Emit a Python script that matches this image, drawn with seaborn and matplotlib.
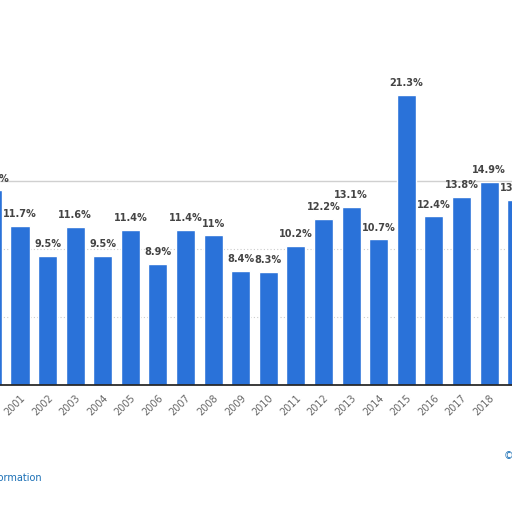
import matplotlib
matplotlib.use("Agg")
import matplotlib.pyplot as plt
import seaborn as sns
import pandas as pd

years = [str(y) for y in range(2000, 2020)]
values = [14.3, 11.7, 9.5, 11.6, 9.5, 11.4, 8.9, 11.4, 11.0, 8.4, 8.3, 10.2, 12.2, 13.1, 10.7, 21.3, 12.4, 13.8, 14.9, 13.6]
labels = ["14.3%", "11.7%", "9.5%", "11.6%", "9.5%", "11.4%", "8.9%", "11.4%", "11%", "8.4%", "8.3%",
          "10.2%", "12.2%", "13.1%", "10.7%", "21.3%", "12.4%", "13.8%", "14.9%", "13.6%"]

df = pd.DataFrame({"year": years, "value": values})
sns.set_theme(style="white")
fig = plt.figure(figsize=(5.12, 5.12), dpi=100)
ax = fig.add_axes([0, 1 - 385/512, 1, 385/512])
sns.barplot(data=df, x="year", y="value", color="#2a72d9", width=0.69, ax=ax, saturation=1)
ax.set_xlim(0.275, 18.83)
ax.set_ylim(0, 28.3)
for y in (5, 10):
    ax.axhline(y, color="#cccccc", lw=0.8, ls=(0, (1, 2)), zorder=0)
ax.axhline(15, color="#d0d0d0", lw=1.0, zorder=0)
for i, (v, t) in enumerate(zip(values, labels)):
    ax.text(i, v + 0.5, t, ha="center", va="bottom", fontsize=7, color="#444444", fontweight="bold")
for s in ("top", "right", "left"):
    ax.spines[s].set_visible(False)
ax.spines["bottom"].set_color("#222222")
ax.set_yticks([])
ax.set_xlabel("")
ax.set_ylabel("")
ax.tick_params(axis="x", labelsize=7, labelcolor="#666666", rotation=45, length=0, pad=6)
for lbl in ax.get_xticklabels():
    lbl.set_ha("right")
    lbl.set_rotation_mode("anchor")
fig.text(42/512, 1 - 478/512, "Additional Information", ha="right", va="center", fontsize=7, color="#1a6fb5")
fig.text(504/512, 1 - 456/512, "©", ha="left", va="center", fontsize=7, color="#1a6fb5")
fig.savefig("out.png", dpi=100)
